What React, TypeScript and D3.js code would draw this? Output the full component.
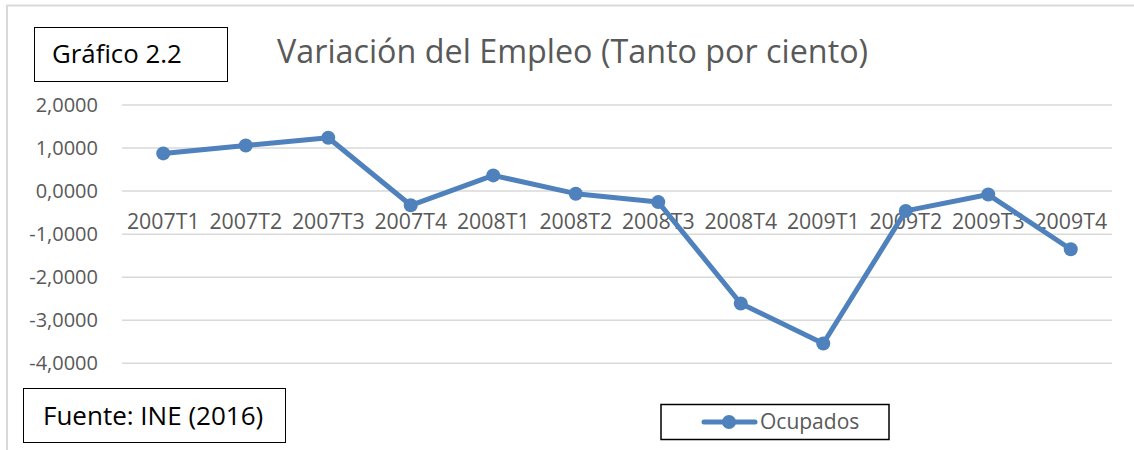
import React from "react";
import * as d3 from "d3";

const categories = ["2007T1","2007T2","2007T3","2007T4","2008T1","2008T2","2008T3","2008T4","2009T1","2009T2","2009T3","2009T4"];
const ocupados = [0.876, 1.06, 1.24, -0.33, 0.365, -0.06, -0.255, -2.61, -3.54, -0.46, -0.08, -1.35];
const yTicks = [2, 1, 0, -1, -2, -3, -4];

const W = 1134, H = 450;
const FONT = "'Open Sans', 'Liberation Sans', sans-serif";
const BLUE = "#4F81BD";
const GRAY = "#595959";

export default function App() {
  const x = d3.scaleBand<string>().domain(categories).range([122, 1112]);
  const y = d3.scaleLinear().domain([-4, 2]).range([363.3, 105]);
  const fmt = (v: number) => v.toFixed(4).replace(".", ",");
  const cx = (c: string) => (x(c) as number) + x.bandwidth() / 2;
  const line = d3.line<number>().x((_, i) => cx(categories[i])).y((d) => y(d));

  return (
    <svg width={W} height={H} style={{ position: "absolute", left: 0, top: 0, background: "#fff" }} fontFamily={FONT}>
      <rect x={0} y={0} width={W} height={H} fill="#fff" />
      <path d={`M7,${H} V5.5 H${W}`} fill="none" stroke="#d9d9d9" strokeWidth={2} />
      {yTicks.map((t) => (
        <g key={t}>
          <line x1={122} x2={1112} y1={y(t)} y2={y(t)} stroke="#d9d9d9" strokeWidth={1.5} />
          <text x={98} y={y(t) + 7} textAnchor="end" fontSize={20} fill={GRAY}>{fmt(t)}</text>
        </g>
      ))}
      {categories.map((c) => (
        <text key={c} x={cx(c)} y={228.5} textAnchor="middle" fontSize={21.3} fill={GRAY}>{c}</text>
      ))}
      <path d={line(ocupados) || ""} fill="none" stroke={BLUE} strokeWidth={5} strokeLinejoin="round" />
      {ocupados.map((v, i) => (
        <circle key={i} cx={cx(categories[i])} cy={y(v)} r={7} fill={BLUE} />
      ))}
      <text x={277} y={63} fontSize={32.3} fill={GRAY}>Variación del Empleo (Tanto por ciento)</text>
      <rect x={34.5} y={27.5} width={193} height={54} fill="#fff" stroke="#000" strokeWidth={1} />
      <text x={52} y={63} fontSize={25.8} fill="#000">Gráfico 2.2</text>
      <rect x={23.5} y={388.5} width={262} height={54} fill="#fff" stroke="#000" strokeWidth={1} />
      <text x={43} y={425} fontSize={26} fill="#000">Fuente: INE (2016)</text>
      <rect x={661} y={404.5} width={228} height={35} fill="#fff" stroke="#000" strokeWidth={1.5} />
      <line x1={704} x2={755} y1={422} y2={422} stroke={BLUE} strokeWidth={5} strokeLinecap="round" />
      <circle cx={729} cy={422} r={7} fill={BLUE} />
      <text x={760} y={429} fontSize={21} fill={GRAY}>Ocupados</text>
    </svg>
  );
}
